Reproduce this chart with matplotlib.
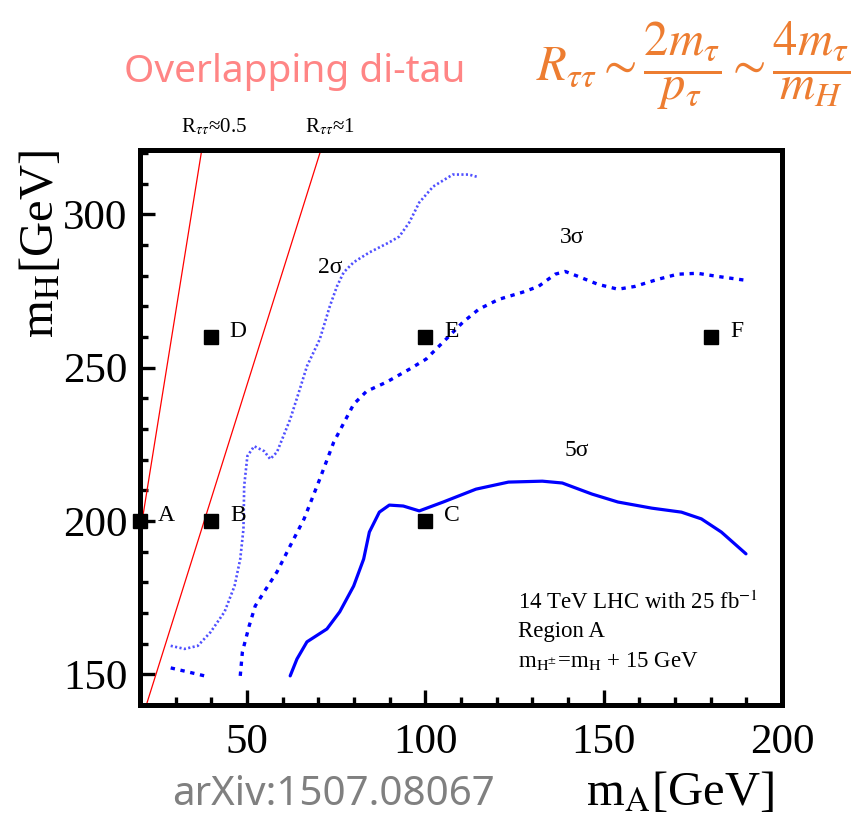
import numpy as np
import matplotlib
matplotlib.use("Agg")
import matplotlib.pyplot as plt

plt.rcParams['font.family'] = ['Liberation Serif', 'DejaVu Serif']
plt.rcParams['mathtext.fontset'] = 'stix'

# benchmark points (mA, mH)
pt_names = ['A', 'B', 'C', 'D', 'E', 'F']
pt_mA = [20, 40, 100, 40, 100, 180]
pt_mH = [200, 200, 200, 260, 260, 260]

# 2 sigma contour (dotted)
c2_mA = [28.6, 32.5, 36.2, 39.8, 43.7, 46.5, 48.1, 49.0, 49.2, 50.1, 52.0, 54.8,
         56.5, 58.4, 62.1, 64.8, 66.8, 70.4, 73.2, 75.2, 77.1, 79.9, 84.3, 89.9,
         92.7, 95.5, 98.3, 102.2, 107.7, 112.2, 115.0]
c2_mH = [159.3, 158.3, 159.3, 163.8, 170.4, 178.8, 187.6, 197.4, 211.4, 221.2, 224.4, 222.8,
         220.2, 222.5, 233.2, 243.0, 250.5, 259.3, 270.0, 276.5, 281.1, 284.4, 287.6, 290.9,
         292.8, 297.4, 303.9, 309.1, 313.0, 313.0, 312.1]

# 3 sigma contour (dashed) + small piece near the lower left
c3_mA = [48.1, 48.7, 50.6, 52.3, 54.8, 58.4, 62.1, 66.0, 70.4, 74.3, 79.9, 83.5,
         89.1, 95.5, 100.2, 105.8, 110.5, 115.0, 120.6, 127.2, 131.7, 136.4, 139.2,
         142.8, 148.4, 154.0, 158.7, 165.1, 170.7, 176.3, 181.8, 189.9]
c3_mH = [149.5, 157.3, 165.8, 172.3, 176.9, 183.4, 191.9, 200.7, 213.7, 225.7, 238.1, 242.3,
         245.3, 249.5, 252.8, 259.3, 264.8, 269.1, 272.3, 274.6, 276.5, 280.5, 281.4,
         279.8, 277.2, 275.6, 276.5, 278.8, 280.5, 280.8, 279.8, 278.5]
c3b_mA = [28.6, 33.4, 38.1]
c3b_mH = [152.1, 150.8, 149.5]

# 5 sigma contour (solid)
c5_mA = [62.1, 64.0, 66.8, 72.4, 76.0, 79.9, 82.7, 84.3, 87.1, 89.9, 93.8, 98.3,
         105.0, 114.2, 123.3, 132.8, 138.4, 146.7, 154.0, 163.5, 171.8, 177.4, 183.0, 189.9]
c5_mH = [149.5, 155.0, 160.6, 164.8, 170.4, 178.8, 187.6, 196.4, 202.9, 205.2, 204.9, 203.3,
         206.2, 210.4, 212.7, 213.0, 212.4, 208.8, 206.2, 204.2, 202.9, 200.7, 196.4, 189.3]

# R_tautau reference lines (endpoints)
r05_mA = [20.0, 37.3]
r05_mH = [195.8, 321.0]
r1_mA = [21.9, 70.7]
r1_mH = [140.5, 321.0]

fig = plt.figure(figsize=(8.66, 8.14), dpi=100)
ax = fig.add_axes([0.1617, 0.1339, 0.7413, 0.6818])

ax.plot(r05_mA, r05_mH, color='red', lw=0.9)
ax.plot(r1_mA, r1_mH, color='red', lw=0.9)

ax.plot(c2_mA, c2_mH, color='#5050ff', lw=1.9, linestyle=(0, (0.8, 0.9)))
ax.plot(c3_mA, c3_mH, color='#0000ff', lw=2.4, linestyle=(0, (1.3, 1.7)))
ax.plot(c3b_mA, c3b_mH, color='#0000ff', lw=2.4, linestyle=(0, (1.3, 1.7)))
ax.plot(c5_mA, c5_mH, color='#0000ff', lw=2.3, solid_capstyle='round')

ax.plot(pt_mA, pt_mH, 's', color='black', ms=10, clip_on=False, zorder=5)
for name, x, y in zip(pt_names, pt_mA, pt_mH):
    ax.annotate(name, (x, y), xytext=(19, 4), textcoords='offset points',
                ha='center', va='center', fontsize=17)

ax.text(73.2, 282.7, '2σ', fontsize=17, ha='center', va='center')
ax.text(141.2, 292.5, '3σ', fontsize=17, ha='center', va='center')
ax.text(142.6, 223.1, '5σ', fontsize=17, ha='center', va='center')

ax.text(0.588, 0.185, r'14 TeV LHC with 25 fb$^{-1}$', transform=ax.transAxes,
        fontsize=16.5, va='center')
ax.text(0.588, 0.133, 'Region A', transform=ax.transAxes, fontsize=16.5, va='center')
ax.text(0.588, 0.080, r'm$_{\mathrm{H^{\pm}}}$=m$_{\mathrm{H}}$ + 15 GeV',
        transform=ax.transAxes, fontsize=16.5, va='center')

ax.set_xlim(20, 199)
ax.set_ylim(140, 321)
ax.set_xticks([50, 100, 150, 200])
ax.set_xticks(np.arange(30, 200, 10), minor=True)
ax.set_yticks([150, 200, 250, 300])
ax.set_yticks(np.arange(150, 321, 10), minor=True)
ax.tick_params(which='both', direction='in', top=False, right=False, width=2.4,
               labelsize=31, colors='black')
ax.tick_params(which='major', length=11, pad=9)
ax.tick_params(which='minor', length=6)
ax.tick_params(axis='x', which='major', pad=13)
for s in ax.spines.values():
    s.set_linewidth(3.6)

# axis titles
fig.text(0.785, 0.027, r'm$_{\mathrm{A}}$[GeV]', fontsize=35, ha='center', va='center')
fig.text(0.047, 0.70, r'm$_{\mathrm{H}}$[GeV]', fontsize=35, ha='center', va='center',
         rotation=90)

# line labels above the frame
fig.text(214 / 866, 1 - 127 / 814, r'R$_{\tau\tau}$≈0.5', fontsize=15, ha='center', va='center')
fig.text(330 / 866, 1 - 127 / 814, r'R$_{\tau\tau}$≈1', fontsize=15, ha='center', va='center')

fig.text(295 / 866, 1 - 72 / 814, 'Overlapping di-tau', fontsize=28, color='#ff8585',
         family=['Noto Sans', 'DejaVu Sans'], ha='center', va='center')
fig.text(693 / 866, 1 - 66 / 814,
         r'$R_{\tau\tau}\sim\dfrac{2m_{\tau}}{p_{\tau}}\sim\dfrac{4m_{\tau}}{m_{H}}$',
         fontsize=35, color='#ed7d31', ha='center', va='center')
fig.text(333 / 866, 1 - 795 / 814, 'arXiv:1507.08067', fontsize=29, color='#808080',
         family=['Noto Sans', 'DejaVu Sans'], ha='center', va='center')

fig.savefig('out.png', dpi=100)
